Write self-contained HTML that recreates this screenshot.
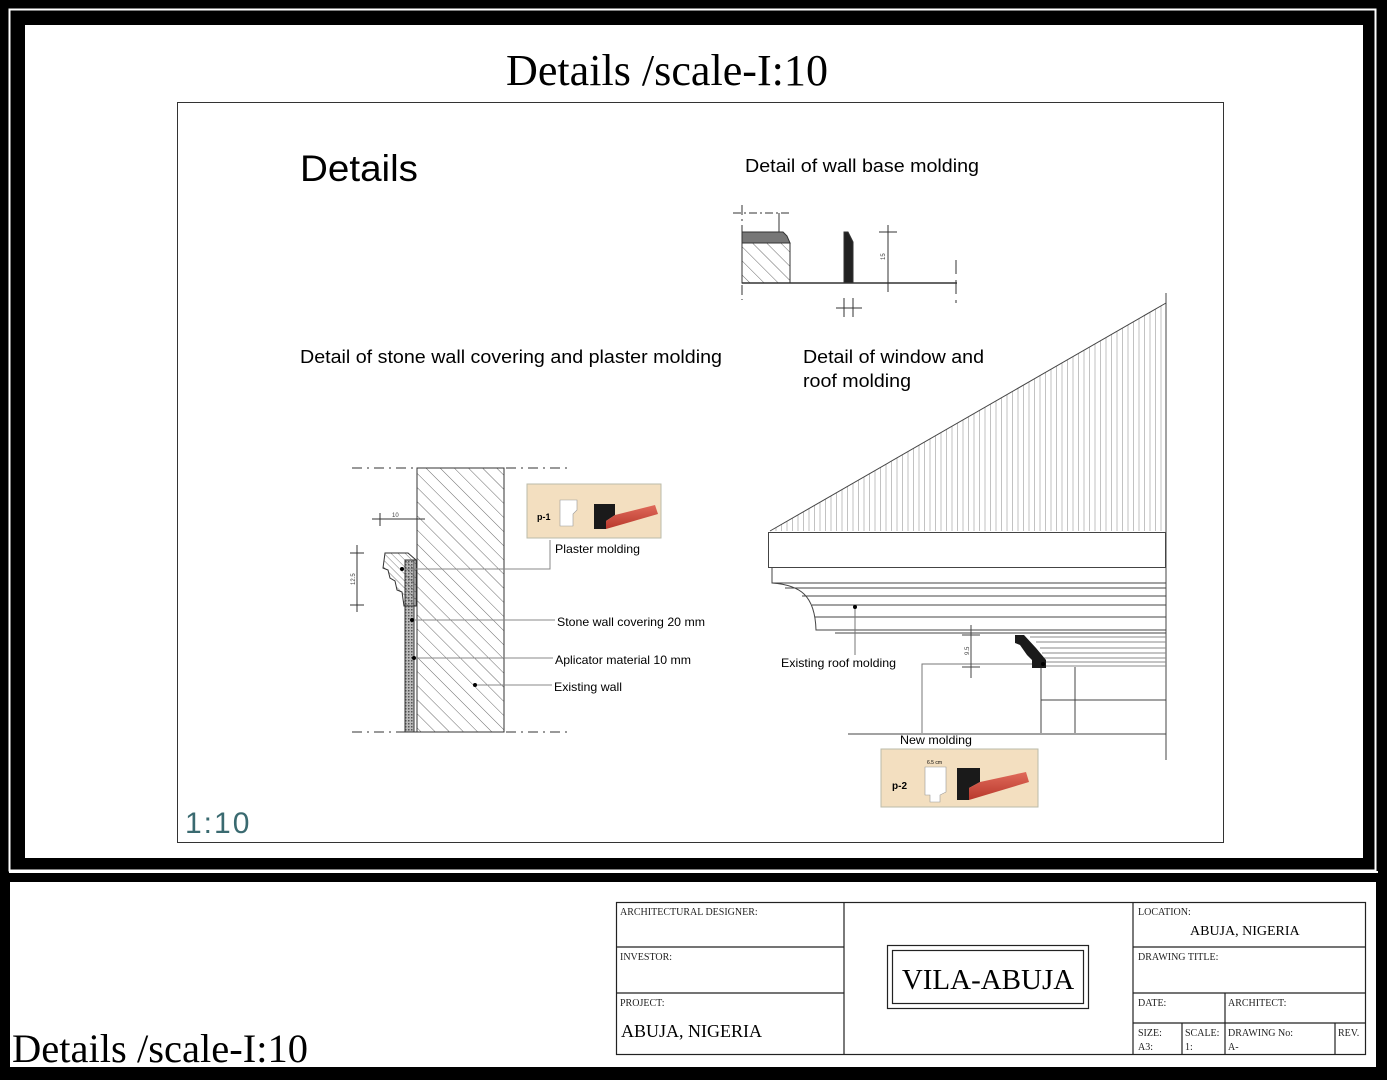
<!DOCTYPE html>
<html><head><meta charset="utf-8"><style>
html,body{margin:0;padding:0;background:#000}
svg{display:block}
.s{font-family:"Liberation Serif",serif}
.a{font-family:"Liberation Sans",sans-serif}
</style></head><body>
<svg width="1387" height="1080" viewBox="0 0 1387 1080" xmlns="http://www.w3.org/2000/svg">
<defs>
<pattern id="h1" width="10" height="10" patternUnits="userSpaceOnUse" patternTransform="rotate(-45)">
<line x1="0" y1="0" x2="0" y2="10" stroke="#444" stroke-width="0.8"/></pattern>
<pattern id="h2" width="5" height="5" patternUnits="userSpaceOnUse" patternTransform="rotate(-45)">
<line x1="0" y1="0" x2="0" y2="5" stroke="#444" stroke-width="0.7"/></pattern>
<pattern id="v" width="5.5" height="10" patternUnits="userSpaceOnUse">
<line x1="0.5" y1="0" x2="0.5" y2="10" stroke="#999" stroke-width="0.6"/></pattern>
<pattern id="dot" width="3" height="3" patternUnits="userSpaceOnUse">
<rect width="3" height="3" fill="#bbb"/><rect width="1.5" height="1.5" fill="#555"/></pattern>
<linearGradient id="red" x1="0" y1="0" x2="0" y2="1"><stop offset="0" stop-color="#e06a5a"/><stop offset="1" stop-color="#b8382c"/></linearGradient>
</defs>
<rect width="1387" height="1080" fill="#000"/>
<rect x="9.5" y="9.5" width="1366" height="861" fill="none" stroke="#fff" stroke-width="2"/>
<rect x="25" y="25" width="1338" height="833" fill="#fff"/>
<rect x="9" y="871" width="1369" height="2" fill="#fff"/>
<rect x="10" y="882" width="1366" height="185" fill="#fff"/>

<text class="s" x="506" y="85" font-size="44" textLength="322" lengthAdjust="spacingAndGlyphs">Details /scale-I:10</text>
<rect x="177.5" y="102.5" width="1046" height="740" fill="none" stroke="#333" stroke-width="1"/>

<text class="a" x="300" y="181" font-size="37" textLength="118" lengthAdjust="spacingAndGlyphs">Details</text>
<text class="a" x="745" y="172" font-size="18" textLength="234" lengthAdjust="spacingAndGlyphs">Detail of wall base molding</text>
<text class="a" x="300" y="363" font-size="18" textLength="422" lengthAdjust="spacingAndGlyphs">Detail of stone wall covering and plaster molding</text>
<text class="a" x="803" y="363" font-size="18" textLength="181" lengthAdjust="spacingAndGlyphs">Detail of window and</text>
<text class="a" x="803" y="387" font-size="18" textLength="108" lengthAdjust="spacingAndGlyphs">roof molding</text>
<text class="a" x="185" y="833" font-size="30" fill="#3a6a70" letter-spacing="2">1:10</text>

<g stroke="#333" fill="none" stroke-width="1">
<line x1="733" y1="213" x2="790" y2="213" stroke-dasharray="8,3,2,3"/>
<line x1="742" y1="205" x2="742" y2="300" stroke-dasharray="10,4,2,4"/>
<line x1="779" y1="213" x2="779" y2="232"/>
<rect x="742" y="243" width="48" height="40" fill="url(#h1)"/>
<path d="M742 232 H783 L787 236 L790 243 H742Z" fill="#777"/>
<path d="M844 283 V232 H848 L853 242 V283Z" fill="#222"/>
<line x1="742" y1="283" x2="957" y2="283" stroke-width="1.5"/>
<line x1="888" y1="225" x2="888" y2="292"/>
<line x1="879" y1="232" x2="897" y2="232"/>
<line x1="879" y1="283" x2="897" y2="283"/>
<line x1="956" y1="260" x2="956" y2="303" stroke-dasharray="14,6"/>
<line x1="836" y1="308" x2="862" y2="308"/>
<line x1="844" y1="298" x2="844" y2="317"/><line x1="853" y1="298" x2="853" y2="317"/>
</g>
<text class="a" x="885" y="260" font-size="6" transform="rotate(-90 885 260)" fill="#444">15</text>

<g stroke="#333" fill="none" stroke-width="1">
<line x1="352" y1="468" x2="572" y2="468" stroke-dasharray="10,5,2,5"/>
<line x1="352" y1="732" x2="572" y2="732" stroke-dasharray="10,5,2,5"/>
<rect x="417" y="468" width="87" height="264" fill="url(#h1)"/>
<rect x="405" y="560" width="10" height="172" fill="url(#dot)"/>
<rect x="414" y="560" width="3" height="172" fill="#fff"/>
<path d="M385 553 L408 553 L416 560 L416 606 L404 606 L402 592 L397 590 L395 581 L390 578 L388 570 L383 568 Z" fill="url(#h2)"/>
<line x1="372" y1="519" x2="425" y2="519"/>
<line x1="380" y1="513" x2="380" y2="526"/><line x1="417" y1="513" x2="417" y2="526"/>
<line x1="357" y1="545" x2="357" y2="612"/>
<line x1="350" y1="553" x2="364" y2="553"/><line x1="350" y1="605" x2="364" y2="605"/>
<path d="M402 569 H550 V540" stroke="#888"/>
<line x1="412" y1="620" x2="555" y2="620" stroke="#888"/>
<line x1="414" y1="658" x2="553" y2="658" stroke="#888"/>
<line x1="475" y1="685" x2="552" y2="685" stroke="#888"/>
</g>
<circle cx="402" cy="569" r="2"/><circle cx="412" cy="620" r="2"/><circle cx="414" cy="658" r="2"/><circle cx="475" cy="685" r="2"/>
<text class="a" x="392" y="517" font-size="6" fill="#444">10</text>
<text class="a" x="355" y="585" font-size="6" transform="rotate(-90 355 585)" fill="#444">12.5</text>
<rect x="527" y="484" width="134" height="54" fill="#f3dfc0" stroke="#bba" stroke-width="1"/>
<text class="a" x="537" y="520" font-size="9" font-weight="bold">p-1</text>
<path d="M560 500 H577 V510 L573 514 V526 H560Z" fill="#fff" stroke="#999" stroke-width="0.6"/>
<path d="M594 504 V529 H606 V521 L615 515 V504Z" fill="#1a1a1a"/>
<path d="M606 521 L615 515 L655 505 L658 514 L606 529Z" fill="url(#red)"/>
<text class="a" x="555" y="553" font-size="12" textLength="85" lengthAdjust="spacingAndGlyphs">Plaster molding</text>
<text class="a" x="557" y="626" font-size="12" textLength="148" lengthAdjust="spacingAndGlyphs">Stone wall covering 20 mm</text>
<text class="a" x="555" y="664" font-size="12" textLength="136" lengthAdjust="spacingAndGlyphs">Aplicator material 10 mm</text>
<text class="a" x="554" y="691" font-size="12" textLength="68" lengthAdjust="spacingAndGlyphs">Existing wall</text>

<polygon points="770,531 1166,303 1166,531" fill="url(#v)" stroke="none"/>
<g stroke="#444" fill="none" stroke-width="1">
<line x1="770" y1="531" x2="1166" y2="303"/>
<line x1="1166" y1="293" x2="1166" y2="760"/>
<rect x="768.5" y="532.5" width="397" height="35" fill="#fff"/>
<path d="M772 567 V583 H1166"/>
<path d="M772 583 C800 585 815 595 816 630 H1166" fill="#fff"/>
<line x1="785" y1="588" x2="1166" y2="588"/>
<line x1="802" y1="596" x2="1166" y2="596"/>
<line x1="812" y1="605" x2="1166" y2="605"/>
<line x1="815" y1="617" x2="1166" y2="617"/>
<line x1="835" y1="633" x2="1166" y2="633"/>
<path d="M1030 637 H1166 M1036 642 H1166 M1040 648 H1166 M1042 653 H1166 M1043 658 H1166 M1043 662 H1166 M1043 666 H1166" stroke="#888"/>
<line x1="1041" y1="667" x2="1041" y2="733"/>
<line x1="1075" y1="667" x2="1075" y2="733"/>
<line x1="1041" y1="700" x2="1166" y2="700"/>
<line x1="848" y1="734" x2="1166" y2="734"/>
<path d="M1043 664 H922 V733" stroke="#777"/>
<line x1="855" y1="607" x2="855" y2="655" stroke="#777"/>
<line x1="971" y1="625" x2="971" y2="678"/>
<line x1="962" y1="635" x2="980" y2="635"/><line x1="962" y1="667" x2="980" y2="667"/>
</g>
<path d="M1015 635 L1024 635 L1036 648 L1046 660 L1046 668 L1032 668 L1032 660 L1027 655 L1020 645 L1015 643Z" fill="#1a1a1a"/>
<circle cx="855" cy="607" r="2"/><circle cx="1043" cy="664" r="2"/>
<text class="a" x="969" y="655" font-size="6" transform="rotate(-90 969 655)" fill="#444">9.5</text>
<text class="a" x="781" y="667" font-size="12" textLength="115" lengthAdjust="spacingAndGlyphs">Existing roof molding</text>
<text class="a" x="900" y="744" font-size="12" textLength="72" lengthAdjust="spacingAndGlyphs">New molding</text>
<rect x="881" y="749" width="157" height="58" fill="#f3dfc0" stroke="#bba" stroke-width="1"/>
<text class="a" x="892" y="789" font-size="10" font-weight="bold">p-2</text>
<path d="M925 767 H946 V792 L940 795 V802 H930 V795 H925Z" fill="#fff" stroke="#999" stroke-width="0.6"/>
<text class="a" x="927" y="764" font-size="5">6.5 cm</text>
<path d="M957 768 V800 H969 V788 L980 782 V768Z" fill="#1a1a1a"/>
<path d="M969 788 L980 782 L1026 772 L1029 782 L969 800Z" fill="url(#red)"/>

<text class="s" x="12" y="1062" font-size="40" textLength="296" lengthAdjust="spacingAndGlyphs">Details /scale-I:10</text>
<g stroke="#222" fill="none" stroke-width="1.2">
<rect x="616.5" y="902.5" width="749" height="152"/>
<line x1="844" y1="902" x2="844" y2="1054"/>
<line x1="1133" y1="902" x2="1133" y2="1054"/>
<line x1="616" y1="947" x2="844" y2="947"/>
<line x1="616" y1="993" x2="844" y2="993"/>
<line x1="1133" y1="947" x2="1365" y2="947"/>
<line x1="1133" y1="993" x2="1365" y2="993"/>
<line x1="1133" y1="1023" x2="1365" y2="1023"/>
<line x1="1225" y1="993" x2="1225" y2="1054"/>
<line x1="1182" y1="1023" x2="1182" y2="1054"/>
<line x1="1335" y1="1023" x2="1335" y2="1054"/>
<rect x="887.5" y="945.5" width="201" height="63"/>
<rect x="892.5" y="950.5" width="191" height="53"/>
</g>
<g class="s" font-size="10" fill="#222">
<text x="620" y="915">ARCHITECTURAL DESIGNER:</text>
<text x="620" y="960">INVESTOR:</text>
<text x="620" y="1006">PROJECT:</text>
<text x="1138" y="915">LOCATION:</text>
<text x="1138" y="960">DRAWING TITLE:</text>
<text x="1138" y="1006">DATE:</text>
<text x="1228" y="1006">ARCHITECT:</text>
<text x="1138" y="1036">SIZE:</text>
<text x="1138" y="1050">A3:</text>
<text x="1185" y="1036">SCALE:</text>
<text x="1185" y="1050">1:</text>
<text x="1228" y="1036">DRAWING No:</text>
<text x="1228" y="1050">A-</text>
<text x="1338" y="1036">REV.</text>
</g>
<text class="s" x="621" y="1037" font-size="18">ABUJA, NIGERIA</text>
<text class="s" x="1190" y="935" font-size="14">ABUJA, NIGERIA</text>
<text class="s" x="988" y="989" font-size="29" text-anchor="middle">VILA-ABUJA</text>
</svg>
</body></html>
